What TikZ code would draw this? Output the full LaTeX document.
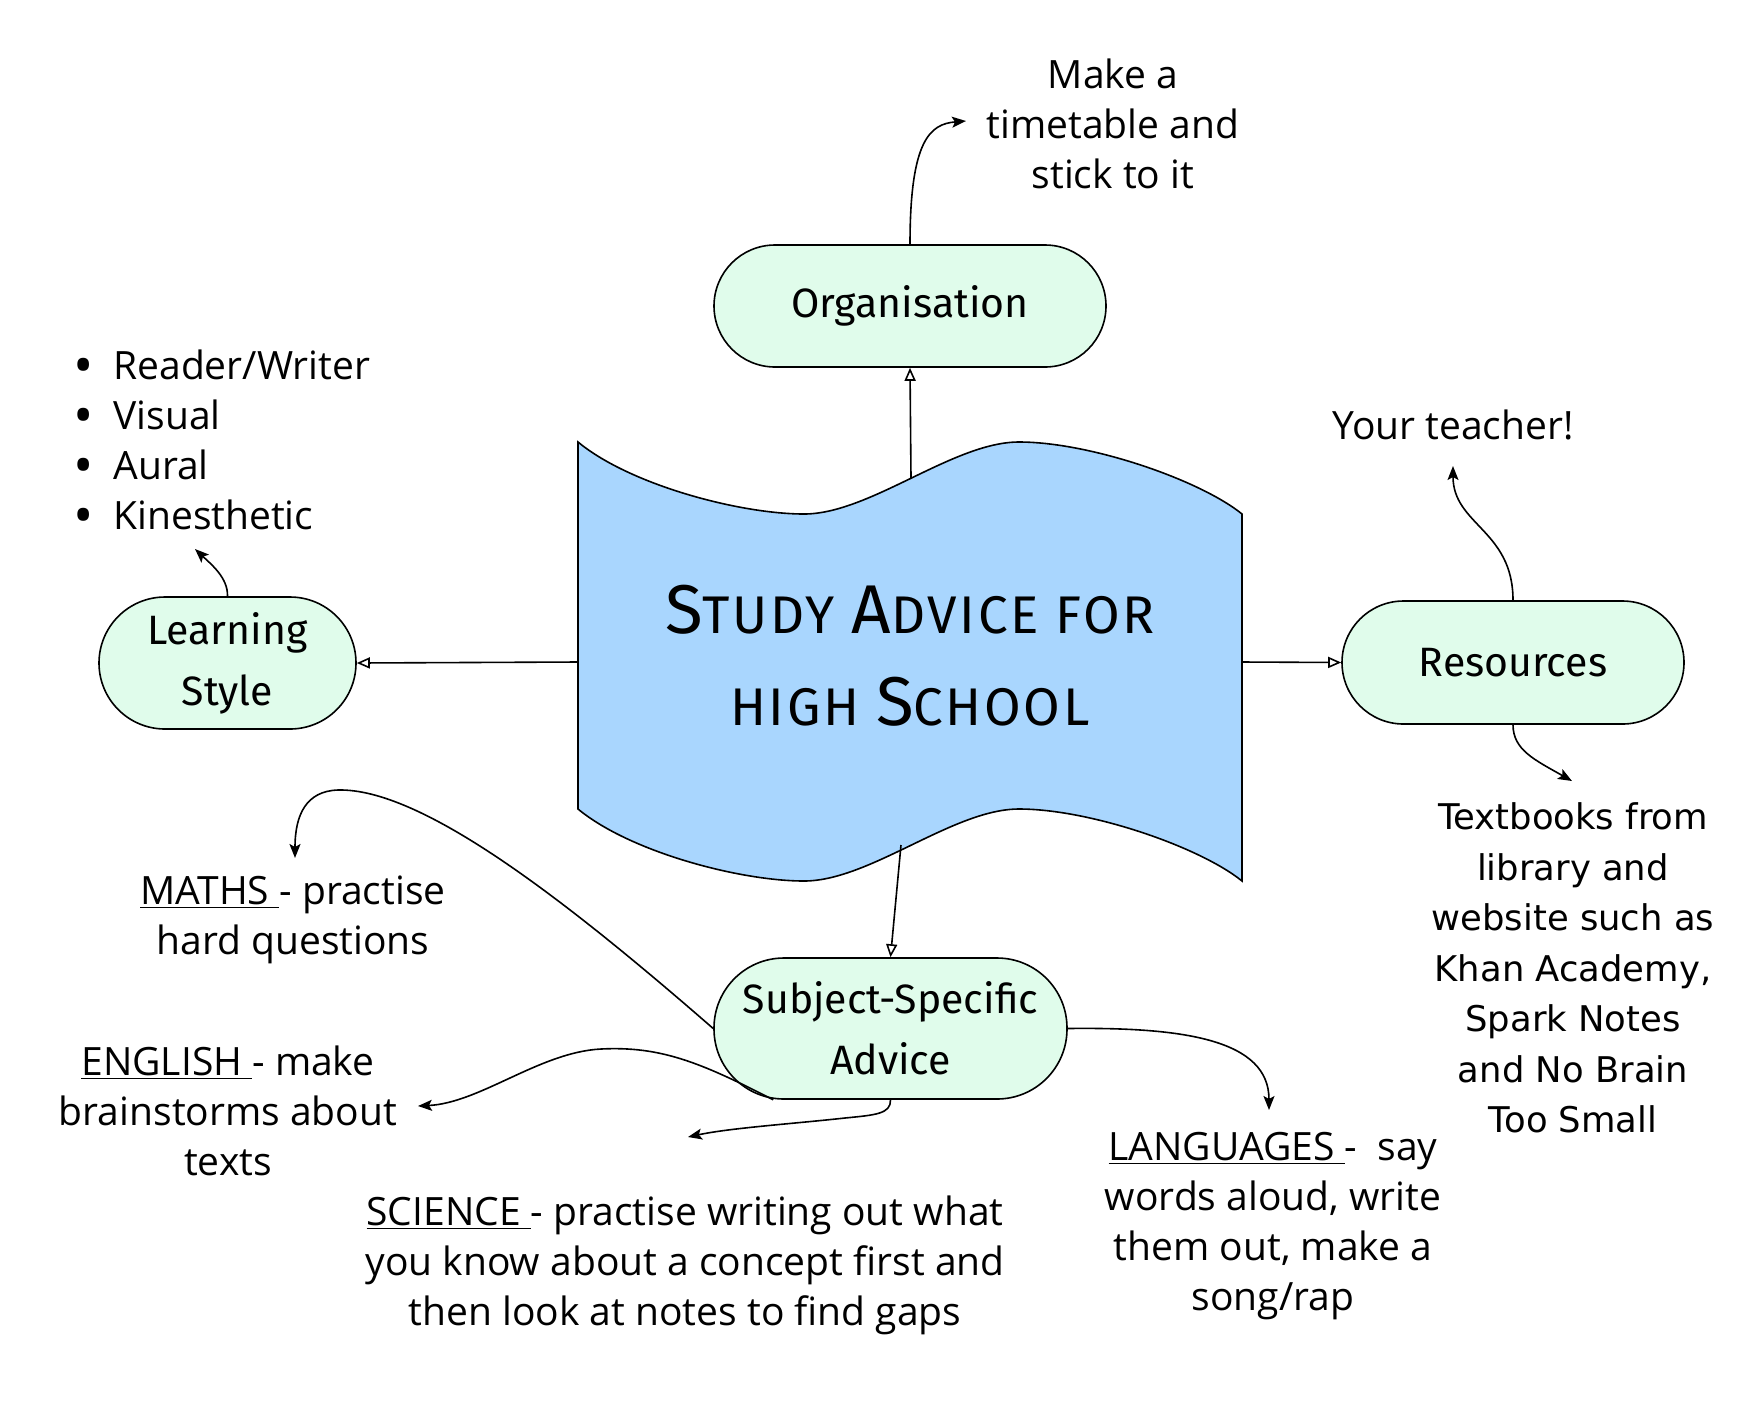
\documentclass[tikz,border=0pt]{standalone}
\usepackage{fontspec}
\setmainfont{Open Sans}
\newfontfamily\handfont{Fira Sans}
\newfontfamily\titlefont[LetterSpace=5]{Fira Sans}
\newfontfamily\resfont{DejaVu Sans}
\usetikzlibrary{arrows.meta}
\definecolor{bannerblue}{HTML}{A9D6FE}
\definecolor{mint}{HTML}{E0FCEB}
\newcommand\tbig[1]{{\fontsize{34.5}{34.5}\selectfont #1}}
\newcommand\tsm[1]{{\fontsize{26.5}{26.5}\selectfont #1}}
\newcommand\bul{\makebox[20pt][l]{\raisebox{-2.5pt}{\fontsize{27}{27}\selectfont •}}}
\tikzset{
  stad/.style={draw, line width=0.8pt, fill=mint, align=center, inner sep=0pt,
    font=\handfont\fontsize{20.5}{30.5}\selectfont},
  body/.style={align=center, inner sep=0pt, font=\fontsize{19.5}{25}\selectfont},
  conn/.style={line width=0.8pt},
  openarr/.style={conn, -{Triangle[open,length=6.5pt,width=5.5pt]}},
  fillarr/.style={conn, -{Stealth[length=7pt,width=5.5pt,inset=1.5pt]}}
}
\begin{document}
\begin{tikzpicture}[x=0.5pt,y=-0.5pt]
\useasboundingbox (0,0) rectangle (1746,1420);
\fill[white] (0,0) rectangle (1746,1420);

% central banner
\draw[fill=bannerblue, line width=0.8pt]
  (578,442) .. controls (630,485) and (740,514) .. (804,514)
  .. controls (870,514) and (953,442) .. (1019,442)
  .. controls (1090,442) and (1200,480) .. (1242,514)
  -- (1242,881)
  .. controls (1200,847) and (1090,809) .. (1019,809)
  .. controls (953,809) and (870,881) .. (804,881)
  .. controls (740,881) and (630,852) .. (578,809) -- cycle;
\node[inner sep=0pt, outer sep=0pt, minimum width=332pt, minimum height=219.5pt] (banner) at (910,662) {};
\node[inner sep=0pt, align=center, font=\titlefont\fontsize{26.5}{46}\selectfont] (title) at (910,656)
  {\tbig{S}\tsm{TUDY} \tbig{A}\tsm{DVICE} \tsm{FOR}\\ \tsm{HIGH} \tbig{S}\tsm{CHOOL}};
\coordinate (btop) at (911,478);
\coordinate (bbot) at (901,845);

% category nodes
\node[stad, minimum width=196pt, minimum height=61pt, rounded corners=30.5pt] (org) at (910,306) {Organisation};
\node[stad, minimum width=128.5pt, minimum height=66pt, rounded corners=33pt] (ls) at (227.5,663) {Learning\\Style};
\node[stad, minimum width=171pt, minimum height=61.5pt, rounded corners=30.75pt] (res) at (1513,662.5) {Resources};
\node[stad, minimum width=176.5pt, minimum height=70.5pt, rounded corners=35pt] (sub) at (890.5,1028.5) {Subject-Specific\\Advice};

% texts
\node[body] (tt) at (1113,124) {Make a\\timetable and\\stick to it};
\node[body, align=left, anchor=west] (list) at (73,442)
  {\bul Reader/Writer\\\bul Visual\\\bul Aural\\\bul Kinesthetic};
\node[body] (yt) at (1453,425) {Your teacher!};
\node[body, font=\resfont\fontsize{17.7}{25.25}\selectfont] (tb) at (1573,968)
  {Textbooks from\\library and\\website such as\\Khan Academy,\\Spark Notes\\and No Brain\\Too Small};
\node[body] (ma) at (293,920) {\underline{MATHS\ }- practise\\hard questions};
\node[body] (en) at (228,1111) {\underline{ENGLISH\ }- make\\brainstorms about\\texts};
\node[body] (sc) at (685,1265) {\underline{SCIENCE\ }- practise writing out what\\you know about a concept first and\\then look at notes to find gaps};
\node[body] (lg) at (1273,1226) {\underline{LANGUAGES\ }-\ \ say\\words aloud, write\\them out, make a\\song/rap};

% arrow end points
\coordinate (tte) at (966,121);
\coordinate (lse) at (195,549);
\coordinate (yte) at (1453,466);
\coordinate (tbe) at (1572,781);
\coordinate (mae) at (295,858);
\coordinate (ene) at (418,1106);
\coordinate (sce) at (688,1137);
\coordinate (lge) at (1269,1110);

% banner connectors
\draw[openarr] (btop) -- (org.south);
\draw[openarr] (banner.west) -- (ls.east);
\draw[openarr] (banner.east) -- (res.west);
\draw[openarr] (bbot) -- (sub.north);

% detail connectors
\draw[fillarr] (org.north) .. controls (910,140) and (930,124) .. (tte);
\draw[fillarr] (ls.north) .. controls (228,578) and (212,565) .. (lse);
\draw[fillarr] (res.north) .. controls (1513,530) and (1453,525) .. (yte);
\draw[fillarr] (res.south) .. controls (1513,750) and (1535,760) .. (tbe);
\draw[fillarr] (sub.west) .. controls (560,895) and (420,788) .. (338,790)
  .. controls (306,791) and (295,815) .. (mae);
\draw[fillarr] ([xshift=30pt]sub.south west) .. controls (700,1062) and (660,1046) .. (601,1049)
  .. controls (540,1052) and (480,1103) .. (ene);
\draw[fillarr] (sub.south) .. controls (891,1114) and (875,1115) .. (845,1118)
  .. controls (790,1124) and (730,1128) .. (sce);
\draw[fillarr] (sub.east) .. controls (1185,1027) and (1269,1040) .. (lge);
\end{tikzpicture}
\end{document}
